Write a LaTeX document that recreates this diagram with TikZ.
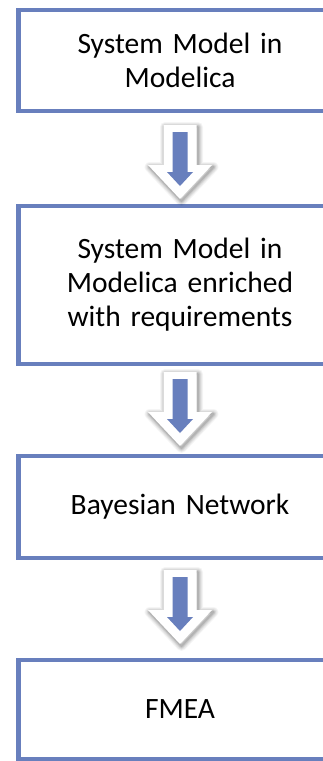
\documentclass[tikz,border=0pt]{standalone}
\usepackage{fontspec}
\setmainfont[WordSpace=0.85]{Carlito}
\usetikzlibrary{calc}
\definecolor{boxblue}{RGB}{104,127,189}
\tikzset{
  stagebox/.style={draw=boxblue, line width=4.5pt, fill=white, outer sep=0pt,
    minimum width=323pt, align=center, text width=300pt,
    font=\fontsize{29.5}{34}\selectfont, inner sep=0pt},
  pics/blockarrow/.style={code={
    \foreach \w/\o in {10/0.04,8/0.05,6/0.06,4/0.08,2/0.1}{
      \draw[line width=\w pt, black, opacity=\o, line join=round, shift={(1.5,2)}]
        (-16.5,0) -- (16.5,0) -- (16.5,40) -- (32,40) -- (0,74) -- (-32,40) -- (-16.5,40) -- cycle;
    }
    \fill[white] (-16.5,0) -- (16.5,0) -- (16.5,40) -- (32,40) -- (0,74) -- (-32,40) -- (-16.5,40) -- cycle;
    \fill[boxblue] (-7.5,7) -- (7.5,7) -- (7.5,47) -- (13,47) -- (0,61) -- (-13,47) -- (-7.5,47) -- cycle;
  }}
}
\begin{document}
\begin{tikzpicture}[x=1pt,y=-1pt]
\useasboundingbox (0,0) rectangle (323,761);
\clip (0,0) rectangle (323,761);
\fill[white] (0,0) rectangle (323,761);
\node[stagebox, minimum height=101pt] (b1) at (180,60.5) {System Model in\\Modelica};
\node[stagebox, minimum height=158pt] (b2) at (180,285) {System Model in\\Modelica enriched\\with requirements};
\node[stagebox, minimum height=102pt] (b3) at (180,507) {Bayesian Network};
\node[stagebox, minimum height=99pt] (b4) at (180,709.5) {FMEA};
\pic at ($(b1.south)+(0,14)$) {blockarrow};
\pic at ($(b2.south)+(0,8)$) {blockarrow};
\pic at ($(b3.south)+(0,12)$) {blockarrow};
\end{tikzpicture}
\end{document}
